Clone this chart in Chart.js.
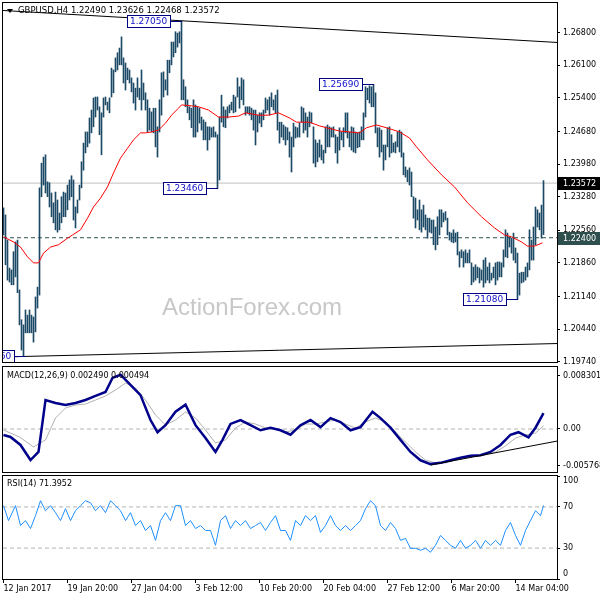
<!DOCTYPE html>
<html><head><meta charset="utf-8">
<script src="https://cdn.jsdelivr.net/npm/chart.js@4.4.1/dist/chart.umd.min.js"></script>
<style>
html,body{margin:0;padding:0;background:#fff;width:600px;height:600px;overflow:hidden}
canvas{position:absolute;left:0}
</style></head><body>
<canvas id="cMain" width="600" height="364" style="top:0px"></canvas>
<canvas id="cMacd" width="600" height="110" style="top:364px"></canvas>
<canvas id="cRsi" width="600" height="127" style="top:473px"></canvas>
<script>
// ---------- DATA ----------
const symbolTitle = 'GBPUSD,H4';
const lastBar = [1.22490, 1.23626, 1.22468, 1.23572]; // O H L C
const highs = [
1.2304,1.2289,1.2235,1.2175,1.2171,1.2210,1.2231,1.2235,1.2128,1.2064,
1.2053,1.2085,1.2074,1.2085,1.2074,1.2070,1.2113,1.2134,1.2347,1.2400,
1.2413,1.2418,1.2360,1.2358,1.2336,1.2315,1.2338,1.2321,1.2293,1.2328,
1.2338,1.2336,1.2353,1.2364,1.2373,1.2364,1.2306,1.2321,1.2353,1.2403,
1.2443,1.2467,1.2467,1.2497,1.2514,1.2540,1.2542,1.2542,1.2521,1.2508,
1.2540,1.2542,1.2531,1.2540,1.2604,1.2600,1.2626,1.2637,1.2647,1.2671,
1.2626,1.2615,1.2604,1.2600,1.2583,1.2572,1.2561,1.2583,1.2561,1.2600,
1.2572,1.2551,1.2536,1.2518,1.2510,1.2518,1.2518,1.2478,1.2536,1.2594,
1.2596,1.2579,1.2621,1.2621,1.2660,1.2660,1.2682,1.2679,1.2682,1.2705,
1.2579,1.2564,1.2536,1.2521,1.2518,1.2536,1.2525,1.2521,1.2518,1.2499,
1.2493,1.2488,1.2478,1.2478,1.2476,1.2478,1.2467,1.2461,1.2499,1.2546,
1.2521,1.2514,1.2521,1.2525,1.2531,1.2546,1.2542,1.2583,1.2564,1.2583,
1.2579,1.2521,1.2521,1.2521,1.2518,1.2514,1.2514,1.2503,1.2508,1.2508,
1.2514,1.2540,1.2536,1.2542,1.2551,1.2536,1.2546,1.2557,1.2488,1.2488,
1.2482,1.2478,1.2476,1.2467,1.2456,1.2486,1.2478,1.2476,1.2486,1.2521,
1.2518,1.2508,1.2499,1.2510,1.2508,1.2478,1.2450,1.2443,1.2450,1.2439,
1.2428,1.2478,1.2482,1.2478,1.2476,1.2478,1.2461,1.2456,1.2476,1.2467,
1.2476,1.2508,1.2508,1.2467,1.2478,1.2476,1.2467,1.2465,1.2467,1.2478,
1.2508,1.2564,1.2561,1.2566,1.2564,1.2569,1.2551,1.2476,1.2476,1.2471,
1.2439,1.2439,1.2476,1.2478,1.2461,1.2443,1.2446,1.2467,1.2471,1.2467,
1.2422,1.2392,1.2385,1.2390,1.2381,1.2328,1.2325,1.2300,1.2321,1.2300,
1.2310,1.2289,1.2282,1.2282,1.2278,1.2278,1.2263,1.2285,1.2300,1.2300,
1.2293,1.2296,1.2282,1.2252,1.2250,1.2257,1.2250,1.2252,1.2210,1.2214,
1.2210,1.2214,1.2207,1.2214,1.2186,1.2177,1.2182,1.2177,1.2175,1.2171,
1.2192,1.2197,1.2177,1.2186,1.2164,1.2177,1.2186,1.2188,1.2188,1.2186,
1.2214,1.2257,1.2250,1.2242,1.2239,1.2250,1.2218,1.2207,1.2164,1.2166,
1.2166,1.2177,1.2186,1.2257,1.2235,1.2263,1.2306,1.2300,1.2293,1.2310,
1.23626];
const lows = [
1.2246,1.2182,1.2149,1.2145,1.2139,1.2139,1.2156,1.2122,1.2053,1.1999,
1.1986,1.2036,1.2036,1.2036,1.2036,1.2016,1.2038,1.2089,1.2117,1.2328,
1.2353,1.2336,1.2328,1.2306,1.2285,1.2272,1.2257,1.2252,1.2257,1.2272,
1.2285,1.2285,1.2300,1.2321,1.2328,1.2278,1.2261,1.2293,1.2321,1.2347,
1.2385,1.2422,1.2435,1.2443,1.2465,1.2478,1.2499,1.2514,1.2461,1.2418,
1.2499,1.2525,1.2514,1.2508,1.2542,1.2551,1.2596,1.2600,1.2611,1.2611,
1.2572,1.2557,1.2579,1.2572,1.2553,1.2529,1.2514,1.2542,1.2536,1.2514,
1.2536,1.2514,1.2467,1.2471,1.2467,1.2465,1.2435,1.2413,1.2467,1.2503,
1.2542,1.2557,1.2546,1.2594,1.2611,1.2628,1.2637,1.2649,1.2658,1.2536,
1.2536,1.2521,1.2508,1.2493,1.2476,1.2456,1.2456,1.2467,1.2486,1.2471,
1.2450,1.2450,1.2428,1.2450,1.2456,1.2456,1.2456,1.2346,1.2364,1.2488,
1.2478,1.2476,1.2497,1.2508,1.2514,1.2508,1.2510,1.2542,1.2518,1.2536,
1.2525,1.2503,1.2508,1.2503,1.2493,1.2471,1.2439,1.2467,1.2486,1.2478,
1.2493,1.2508,1.2514,1.2503,1.2521,1.2514,1.2508,1.2471,1.2443,1.2456,
1.2450,1.2439,1.2450,1.2413,1.2381,1.2435,1.2454,1.2456,1.2456,1.2488,
1.2465,1.2471,1.2456,1.2478,1.2486,1.2400,1.2392,1.2403,1.2413,1.2407,
1.2400,1.2422,1.2435,1.2435,1.2456,1.2456,1.2422,1.2400,1.2428,1.2450,
1.2435,1.2465,1.2454,1.2435,1.2428,1.2424,1.2422,1.2433,1.2435,1.2450,
1.2450,1.2499,1.2536,1.2529,1.2521,1.2521,1.2465,1.2435,1.2413,1.2424,
1.2385,1.2407,1.2435,1.2413,1.2422,1.2424,1.2422,1.2435,1.2424,1.2413,
1.2375,1.2370,1.2360,1.2353,1.2328,1.2282,1.2261,1.2278,1.2257,1.2252,
1.2263,1.2257,1.2239,1.2252,1.2250,1.2225,1.2214,1.2225,1.2246,1.2263,
1.2274,1.2278,1.2246,1.2235,1.2231,1.2229,1.2231,1.2203,1.2177,1.2197,
1.2177,1.2186,1.2186,1.2186,1.2139,1.2145,1.2149,1.2154,1.2143,1.2149,
1.2134,1.2143,1.2149,1.2143,1.2149,1.2154,1.2139,1.2149,1.2156,1.2156,
1.2177,1.2199,1.2197,1.2220,1.2207,1.2192,1.2186,1.2108,1.2117,1.2143,
1.2145,1.2149,1.2156,1.2171,1.2192,1.2192,1.2225,1.2263,1.2257,1.2239,
1.22468];

// moving average (red), read at sampled bars
const maBars = [0,5,8.5,12,15,17.5,20,23.5,27.5,32,34.5,38.5,42,45,48.5,52,55,58.5,62,65,68.5,71,74,77.5,81,84,87.5,89,94,97.5,102.5,107.5,112.5,117.5,121,127.5,132.5,137.5,143,146.5,153,158,161.5,168,173,178,181.5,186.5,191.5,198,203,206.5,212,219,225.5,232,239,245.5,250.5,254,259,262,265.5,269.5];
const maValues = [1.2242,1.2231,1.2220,1.2199,1.2186,1.2186,1.2207,1.2220,1.2225,1.2239,1.2246,1.2257,1.2282,1.2306,1.2325,1.2349,1.2379,1.2411,1.2432,1.2450,1.2465,1.2465,1.2467,1.2471,1.2486,1.2503,1.2518,1.2525,1.2523,1.2521,1.2514,1.2499,1.2499,1.2501,1.2508,1.2503,1.2503,1.2508,1.2497,1.2488,1.2488,1.2480,1.2476,1.2469,1.2467,1.2465,1.2476,1.2482,1.2476,1.2467,1.2454,1.2435,1.2407,1.2375,1.2349,1.2315,1.2285,1.2261,1.2246,1.2242,1.2231,1.2222,1.2222,1.2229];

// MACD(12,26,9)
const macdBars = [0,3.5,8.5,13.5,17.5,21,26,31,36,41,46,51,54.5,58.5,63.5,68.5,73.5,77,81,86,91,96,101,106,109.5,113.5,118.5,123.5,128.5,133.5,138.5,143.5,148.5,153.5,158.5,163.5,168.5,173.5,178.5,184.5,188.5,193.5,198.5,203.5,208.5,213.5,218.5,223.5,228.5,233.5,238.5,243.5,248.5,253.5,257.5,262.5,266,270];
const macdValues = [-0.00094,-0.00125,-0.0025,-0.00486,-0.0036,0.00454,0.00407,0.00376,0.00407,0.00454,0.0052,0.0058,0.0080,0.0085,0.0069,0.0053,0.0014,-0.0005,0.0006,0.0027,0.0038,0.0006,-0.0014,-0.0036,-0.0017,0.0008,0.0014,0.0006,-0.0002,0.0002,-0.0002,-0.0009,0.0006,0.0014,0.0003,0.0017,0.0011,-0.0002,0.0003,0.0027,0.0017,0.0002,-0.0017,-0.0036,-0.0049,-0.0055,-0.0053,-0.0049,-0.0045,-0.0042,-0.0041,-0.0036,-0.0025,-0.0009,-0.0005,-0.0013,0.0002,0.00249];
const signalBars = [0,8,15,21,26,31,36,41,46,51,56,61,66,71,76,81,86,91,96,101,106,111,116,121,126,131,136,141,146,151,156,161,166,171,176,181,186,191,196,201,206,211,216,221,226,231,236,241,246,251,256,261,266,270];
const signalValues = [-0.00016,-0.00125,-0.00282,-0.00172,0.00172,0.00329,0.00376,0.00392,0.00454,0.00517,0.00611,0.00720,0.00642,0.00454,0.00219,0.00063,0.00141,0.00266,0.00172,-0.00016,-0.00219,-0.00172,0.00016,0.00110,0.00078,0.00016,0,-0.00047,-0.00016,0.00078,0.00078,0.00110,0.00141,0.00078,0.00016,0.00110,0.00172,0.00110,-0.00047,-0.00204,-0.0036,-0.00486,-0.00532,-0.00532,-0.00486,-0.00454,-0.00423,-0.00407,-0.0036,-0.00266,-0.00141,-0.00094,-0.00063,0.000494];
const macdLast = [0.002490, 0.000494];

// RSI(14)
const rsiBars = [0,2.5,6,8.5,11,13.5,16,18.5,21,23.5,26,28.5,31,33.5,36,38.5,41,43.5,46,48.5,51,53.5,56,58.5,61,63.5,66,68.5,71,73.5,76,78.5,81,83.5,86,88.5,91,93.5,96,98.5,101,103.5,106,108.5,111,113.5,116,118.5,121,123.5,126,128.5,131,133.5,136,138.5,141,143.5,146,148.5,151,153.5,156,158.5,161,163.5,166,168.5,171,173.5,176,178.5,181,183.5,186,188.5,191,193.5,196,198.5,201,203.5,206,208.5,211,213.5,216,218.5,221,223.5,226,228.5,231,233.5,236,238.5,241,243.5,246,248.5,251,253.5,256,258.5,261,263.5,266,268.5,270];
const rsiValues = [71.2,56.7,71.2,51.9,56.7,49.0,61.5,76.0,66.3,71.2,64.4,56.7,68.3,56.7,66.3,71.2,76.0,74.0,66.3,71.2,64.4,76.0,71.2,66.3,56.7,64.4,51.9,56.7,47.1,51.9,37.5,56.7,64.4,56.7,71.2,71.2,51.9,56.7,49.0,51.9,47.1,47.1,32.7,56.7,61.5,49.0,56.7,51.9,56.7,49.0,51.9,54.8,47.1,54.8,61.5,47.1,47.1,37.5,56.7,51.9,61.5,56.7,61.5,45.2,51.9,61.5,51.9,47.1,51.9,47.1,51.9,56.7,68.3,76.0,71.2,51.9,47.1,54.8,49.0,37.5,39.4,29.8,29.8,27.9,29.8,26.0,32.7,42.3,37.5,32.7,29.8,37.5,29.8,32.7,37.5,29.8,37.5,32.7,37.5,32.7,47.1,54.8,42.3,32.7,47.1,56.7,66.3,61.5,71.4];
const rsiLast = 71.3952;
const rsiLevels = [70, 30];

// trendlines [bar, value] pairs
const upperTrend = [[-1.75, 1.2728], [277, 1.2659]];
const lowerTrend = [[-1.75, 1.1984], [277, 1.2013]];
const macdTrend = [[213.5, -0.00564], [277, -0.00188]];

// labelled swing points
const swingBars = [89, 107, 185, 257, 11];
const swingPrices = [1.27050, 1.23460, 1.25690, 1.21080, 1.19860];
const levelPrice = 1.22400;

// axes
const priceTicks = [1.26800,1.26100,1.25400,1.24680,1.23980,1.23280,1.22560,1.21860,1.21140,1.20440,1.19740];
const macdTicks = [0.008301, 0, -0.005768];
const rsiTicks = [100, 70, 30, 0];
const timeTickBars = [0, 32, 64, 96, 128, 160, 192, 224, 256];
const timeTickLabels = ['12 Jan 2017','19 Jan 20:00','27 Jan 04:00','3 Feb 12:00','10 Feb 20:00','20 Feb 04:00','27 Feb 12:00','6 Mar 20:00','14 Mar 04:00'];

// ---------- STYLE / SETUP ----------
const FONT = '"DejaVu Sans", sans-serif';
Chart.defaults.font.family = FONT;
Chart.defaults.font.size = 8;
Chart.defaults.color = '#000';
const XMIN = -0.25, XMAX = 276.75;
const pts = (xs, ys) => xs.map((x, k) => ({x, y: ys[k]}));
const pairPts = a => a.map(p => ({x: p[0], y: p[1]}));

const framePlugin = {
  id: 'frame',
  afterDraw(chart) {
    const a = chart.chartArea, c = chart.ctx;
    c.save(); c.strokeStyle = '#000'; c.lineWidth = 1;
    c.strokeRect(a.left - 0.5, a.top - 0.5, a.right - a.left + 1, a.bottom - a.top + 1);
    c.restore();
  }
};

function rightAxis(min, max, tickVals, cb) {
  return {
    position: 'right', min, max,
    afterBuildTicks: s => { s.ticks = tickVals.map(v => ({value: v})); },
    afterFit: s => { s.width = 43; s.paddingTop = 0; s.paddingBottom = 0; },
    ticks: {callback: cb, autoSkip: false, padding: 3, color: '#000', font: {size: 8, family: FONT}},
    grid: {drawOnChartArea: false, drawTicks: true, tickLength: 3, color: '#000'},
    border: {display: false}
  };
}
const hiddenX = {type: 'linear', min: XMIN, max: XMAX, display: false, offset: false};
const baseOpts = {responsive: false, maintainAspectRatio: false, animation: false, devicePixelRatio: 1, events: [],
  plugins: {legend: {display: false}, tooltip: {enabled: false}}};
const lineDs = (data, color, width, extra) => Object.assign({type: 'line', data, borderColor: color, borderWidth: width,
  pointRadius: 0, tension: 0, fill: false}, extra || {});

// ---------- MAIN PRICE PANEL ----------
const mainDecor = {
  id: 'mainDecor',
  beforeDatasetsDraw(chart) {
    const c = chart.ctx, a = chart.chartArea;
    c.save();
    c.font = '24px "Liberation Sans", Arial, sans-serif';
    c.fillStyle = '#c8c8c8'; c.textAlign = 'center'; c.textBaseline = 'alphabetic';
    c.fillText('ActionForex.com', a.left + 249, a.top + 312);
    c.restore();
  },
  afterDatasetsDraw(chart) {
    const c = chart.ctx, a = chart.chartArea, xs = chart.scales.x, ys = chart.scales.y;
    c.save();
    c.beginPath(); c.rect(a.left, a.top, a.right - a.left, a.bottom - a.top); c.clip();
    c.font = '9px ' + FONT;
    swingBars.forEach((b, k) => {
      const p = swingPrices[k];
      const px = Math.floor(xs.getPixelForValue(b));
      const yc = Math.round(ys.getPixelForValue(p));
      const t = p.toFixed(5);
      const w = Math.ceil(c.measureText(t).width) + 6;
      const R = px - 10, L = R - w, T = yc - 6;
      c.fillStyle = '#fff'; c.fillRect(L, T, w, 13);
      c.strokeStyle = '#000080'; c.lineWidth = 1;
      c.strokeRect(L + 0.5, T + 0.5, w - 1, 12);
      c.beginPath(); c.moveTo(R, yc + 0.5); c.lineTo(px + 1, yc + 0.5); c.stroke();
      c.fillStyle = '#1010c8'; c.textBaseline = 'middle'; c.textAlign = 'left';
      c.fillText(t, L + 3, yc + 1);
    });
    c.restore();
  },
  afterDraw(chart) {
    const c = chart.ctx, a = chart.chartArea, ys = chart.scales.y;
    c.save();
    [[lastBar[3], '#000000'], [levelPrice, '#2f4f4f']].forEach(([p, bg]) => {
      const yc = Math.round(ys.getPixelForValue(p));
      c.fillStyle = bg; c.fillRect(a.right + 1, yc - 6, 43, 13);
      c.fillStyle = '#fff'; c.font = '8px ' + FONT; c.textBaseline = 'middle'; c.textAlign = 'left';
      c.fillText(p.toFixed(5), a.right + 6, yc + 1);
    });
    c.fillStyle = '#000';
    c.beginPath(); c.moveTo(a.left + 4, a.top + 6); c.lineTo(a.left + 10, a.top + 6); c.lineTo(a.left + 7, a.top + 10); c.closePath(); c.fill();
    c.font = '8.5px ' + FONT; c.textBaseline = 'middle'; c.textAlign = 'left';
    c.fillText(symbolTitle + ' ' + lastBar.map(v => v.toFixed(5)).join(' '), a.left + 15, a.top + 8);
    c.restore();
  }
};

new Chart(document.getElementById('cMain'), {
  type: 'bar',
  data: {datasets: [
    lineDs([{x: XMIN, y: lastBar[3]}, {x: XMAX, y: lastBar[3]}], '#c0c0c0', 1, {order: 5}),
    lineDs([{x: XMIN, y: levelPrice}, {x: XMAX, y: levelPrice}], '#2f4f4f', 1, {borderDash: [4, 3], order: 4}),
    {type: 'bar', data: highs.map((h, i) => ({x: i, y: [lows[i], h]})), backgroundColor: '#1c4a66',
      borderWidth: 0, barThickness: 1, order: 3},
    lineDs(pts(maBars, maValues), '#ff0000', 1, {order: 2}),
    lineDs(pairPts(upperTrend), '#000', 1, {order: 1}),
    lineDs(pairPts(lowerTrend), '#000', 1, {order: 1})
  ]},
  options: Object.assign({}, baseOpts, {
    layout: {padding: {left: 3, top: 3, right: 0, bottom: 2}},
    scales: {
      x: hiddenX,
      y: rightAxis(1.197335, 1.27437, priceTicks, v => Number(v).toFixed(5))
    }
  }),
  plugins: [mainDecor, framePlugin]
});

// ---------- MACD PANEL ----------
const macdDecor = {
  id: 'macdDecor',
  afterDraw(chart) {
    const c = chart.ctx, a = chart.chartArea;
    c.save(); c.fillStyle = '#000'; c.font = '8px ' + FONT; c.textBaseline = 'middle'; c.textAlign = 'left';
    c.fillText('MACD(12,26,9) ' + macdLast[0].toFixed(6) + ' ' + macdLast[1].toFixed(6), a.left + 4, a.top + 9);
    c.restore();
  }
};
new Chart(document.getElementById('cMacd'), {
  type: 'line',
  data: {datasets: [
    lineDs([{x: XMIN, y: 0}, {x: XMAX, y: 0}], '#b4b4b4', 1, {borderDash: [4, 3], order: 4}),
    lineDs(pts(signalBars, signalValues), '#b0b0b0', 1, {order: 3}),
    lineDs(pts(macdBars, macdValues), '#00008b', 2.5, {order: 2}),
    lineDs(pairPts(macdTrend), '#000', 1, {order: 1})
  ]},
  options: Object.assign({}, baseOpts, {
    layout: {padding: {left: 3, top: 3, right: 0, bottom: 2}},
    scales: {
      x: hiddenX,
      y: rightAxis(-0.006735, 0.00971, macdTicks, v => v === 0 ? '0.00' : Number(v).toFixed(6))
    }
  }),
  plugins: [macdDecor, framePlugin]
});

// ---------- RSI PANEL ----------
const rsiDecor = {
  id: 'rsiDecor',
  afterDraw(chart) {
    const c = chart.ctx, a = chart.chartArea;
    c.save(); c.fillStyle = '#000'; c.font = '8px ' + FONT; c.textBaseline = 'middle'; c.textAlign = 'left';
    c.fillText('RSI(14) ' + rsiLast.toFixed(4), a.left + 4, a.top + 8);
    c.restore();
  }
};
new Chart(document.getElementById('cRsi'), {
  type: 'line',
  data: {datasets: [
    lineDs([{x: XMIN, y: rsiLevels[0]}, {x: XMAX, y: rsiLevels[0]}], '#b4b4b4', 1, {borderDash: [4, 3], order: 3}),
    lineDs([{x: XMIN, y: rsiLevels[1]}, {x: XMAX, y: rsiLevels[1]}], '#b4b4b4', 1, {borderDash: [4, 3], order: 3}),
    lineDs(pts(rsiBars, rsiValues), '#1e90ff', 1, {order: 1})
  ]},
  options: Object.assign({}, baseOpts, {
    layout: {padding: {left: 3, top: 3, right: 0, bottom: 0}},
    scales: {
      x: {type: 'linear', min: XMIN, max: XMAX, offset: false, position: 'bottom',
        afterBuildTicks: s => { s.ticks = timeTickBars.map(v => ({value: v})); },
        afterFit: s => { s.height = 21; s.paddingLeft = 0; s.paddingRight = 0; },
        ticks: {callback: (v, i) => timeTickLabels[i], autoSkip: false, maxRotation: 0, align: 'start', padding: 1,
          color: '#000', font: {size: 8, family: FONT}},
        grid: {drawOnChartArea: false, drawTicks: true, tickLength: 4, color: '#000'},
        border: {display: false}},
      y: rightAxis(0, 100, rsiTicks, v => v === 100 ? ['', '100'] : (v === 0 ? ['0', ''] : String(v)))
    }
  }),
  plugins: [rsiDecor, framePlugin]
});
</script>
</body></html>
